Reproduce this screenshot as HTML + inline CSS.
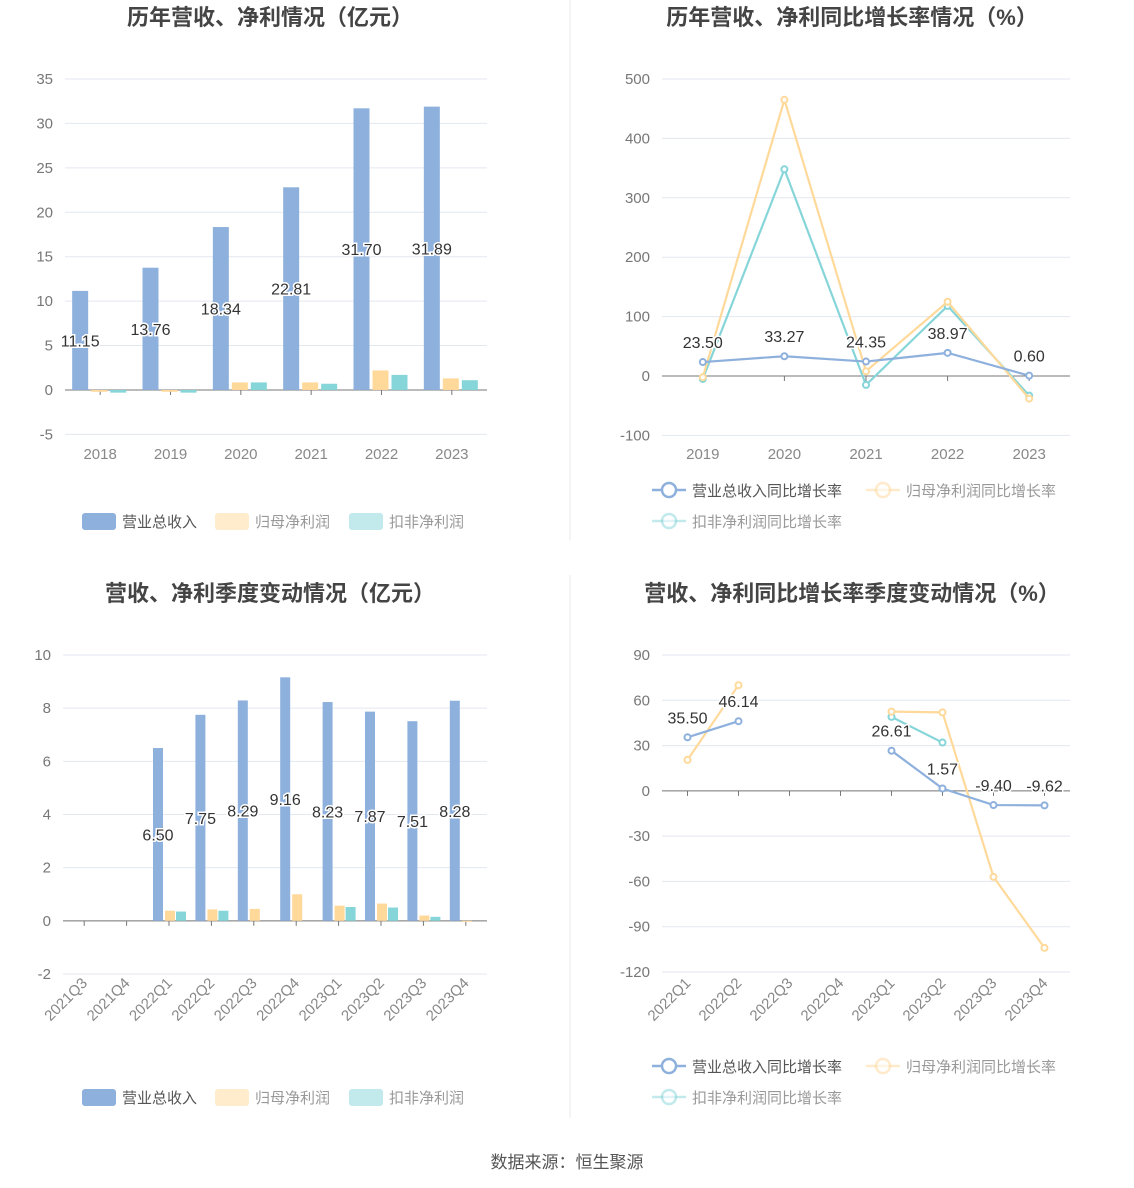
<!DOCTYPE html>
<html><head><meta charset="utf-8"><style>
body{margin:0;background:#fff;font-family:"Liberation Sans","Noto Sans CJK SC",sans-serif}
svg{display:block}
</style></head><body>
<svg id="s" width="1134" height="1188" xmlns="http://www.w3.org/2000/svg" font-family="Liberation Sans, Noto Sans CJK SC, sans-serif">
<line x1="570" y1="0" x2="570" y2="540" stroke="#e8e8e8"/>
<line x1="570" y1="575" x2="570" y2="1118" stroke="#e8e8e8"/>
<text x="270" y="25" text-anchor="middle" font-size="22" font-weight="bold" fill="#444">历年营收、净利情况（亿元）</text>
<text x="852" y="25" text-anchor="middle" font-size="22" font-weight="bold" fill="#444">历年营收、净利同比增长率情况（%）</text>
<text x="270" y="601" text-anchor="middle" font-size="22" font-weight="bold" fill="#444">营收、净利季度变动情况（亿元）</text>
<text x="852" y="601" text-anchor="middle" font-size="22" font-weight="bold" fill="#444">营收、净利同比增长率季度变动情况（%）</text>
<text x="567" y="1168" text-anchor="middle" font-size="17" fill="#555">数据来源：恒生聚源</text>
</svg>
<script>
const c1Cats=["2018","2019","2020","2021","2022","2023"];
const c1Rev=[11.15,13.76,18.34,22.81,31.70,31.89];
const c1Net=[-0.2,-0.2,0.85,0.85,2.2,1.3];
const c1Ded=[-0.3,-0.3,0.85,0.7,1.7,1.1];
const c1Ticks=[-5,0,5,10,15,20,25,30,35];

const c2Cats=["2019","2020","2021","2022","2023"];
const c2Rev=[23.50,33.27,24.35,38.97,0.60];
const c2Net=[-2,465,8,125,-38];
const c2Ded=[-5,348,-15,118,-33];
const c2Ticks=[-100,0,100,200,300,400,500];

const c3Cats=["2021Q3","2021Q4","2022Q1","2022Q2","2022Q3","2022Q4","2023Q1","2023Q2","2023Q3","2023Q4"];
const c3Rev=[null,null,6.50,7.75,8.29,9.16,8.23,7.87,7.51,8.28];
const c3Net=[null,null,0.38,0.43,0.45,1.0,0.57,0.65,0.2,-0.03];
const c3Ded=[null,null,0.35,0.38,null,null,0.52,0.5,0.15,null];
const c3Ticks=[-2,0,2,4,6,8,10];

const c4Cats=["2022Q1","2022Q2","2022Q3","2022Q4","2023Q1","2023Q2","2023Q3","2023Q4"];
const c4Rev=[35.50,46.14,null,null,26.61,1.57,-9.40,-9.62];
const c4Net=[20.5,70,null,null,52.5,52,-57,-104];
const c4Ded=[null,null,null,null,49,32,null,null];
const c4Ticks=[-120,-90,-60,-30,0,30,60,90];

const NS="http://www.w3.org/2000/svg";
const svg=document.getElementById("s");
function mk(tag,attrs,txt){const e=document.createElementNS(NS,tag);for(const k in attrs)e.setAttribute(k,attrs[k]);if(txt!=null)e.textContent=txt;svg.appendChild(e);return e;}
const BLUE="#8eb0dd",YEL="#ffd99a",TEAL="#86d5d9";

function axes(o,ticks,cats,rotate,pfx){
  const y=v=>o.y0-(v-o.vmin)/(o.vmax-o.vmin)*(o.y0-o.y1);
  for(const t of ticks){
    const g=mk("line",{x1:o.x0,x2:o.x1,y1:y(t),y2:y(t),stroke:"#e3e7f0"});
    
    
    const l=mk("text",{x:o.x0-12,y:y(t)+5,"text-anchor":"end","font-size":15,fill:"#777"},String(t));
    
    
  }
  const ax=mk("line",{x1:o.x0,x2:o.x1,y1:y(0),y2:y(0),stroke:"#777"});
  
  
  const w=(o.x1-o.x0)/cats.length;
  cats.forEach((c,i)=>{
    const cx=o.x0+w*(i+0.5);
    const tk=mk("line",{x1:cx,x2:cx,y1:y(0),y2:y(0)+5,stroke:"#777"});
    
    
    let l;
    if(rotate){l=mk("text",{x:cx+4,y:o.labY,"text-anchor":"end","font-size":15,fill:"#888",transform:`rotate(-45 ${cx+4} ${o.labY})`},c);}
    else l=mk("text",{x:cx,y:o.labY,"text-anchor":"middle","font-size":15,fill:"#888"},c);
    
    
  });
  return {y,w};
}
function barChart(o,cats,rev,net,ded,ticks,rot,pfx){
  const {y,w}=axes(o,ticks,cats,rot,pfx);
  const bw=o.bw;
  cats.forEach((c,i)=>{
    const cx=o.x0+w*(i+0.5);
    [[rev,BLUE,o.offs[0],'revenue'],[net,YEL,o.offs[1],'net-profit'],[ded,TEAL,o.offs[2],'deducted-profit']].forEach(([arr,col,off,nm])=>{
      const v=arr[i]; if(v==null)return;
      const r=mk("rect",{x:cx+off-bw/2,y:Math.min(y(v),y(0)),width:bw,height:Math.max(1,Math.abs(y(v)-y(0))),fill:col});
      
      
    });
    if(rev[i]!=null){
      const t=mk("text",{x:cx+o.offs[0],y:(y(rev[i])+y(0))/2+6,"text-anchor":"middle","font-size":16,fill:"#333",stroke:"#fff","stroke-width":3,"paint-order":"stroke"},rev[i].toFixed(2));
      
      
    }
  });
}
function lineChart(o,cats,rev,net,ded,ticks,rot,pfx){
  const {y,w}=axes(o,ticks,cats,rot,pfx);
  const X=i=>o.x0+w*(i+0.5);
  [[ded,TEAL,'deducted-growth'],[net,YEL,'net-growth'],[rev,BLUE,'revenue-growth']].forEach(([arr,col,nm])=>{
    let d="",pen=false;
    arr.forEach((v,i)=>{if(v==null){pen=false;return;}d+=(pen?"L":"M")+X(i)+" "+y(v)+" ";pen=true;});
    const p=mk("path",{d,fill:"none",stroke:col,"stroke-width":2.2});
    
    
    arr.forEach((v,i)=>{if(v==null)return;
      const cc=mk("circle",{cx:X(i),cy:y(v),r:3,fill:"#fff",stroke:col,"stroke-width":2});
      
      
    });
  });
  rev.forEach((v,i)=>{if(v==null)return;
    const t=mk("text",{x:X(i),y:y(v)-14,"text-anchor":"middle","font-size":16,fill:"#333",stroke:"#fff","stroke-width":3,"paint-order":"stroke"},v.toFixed(2));
    
    
  });
}
function legendBars(y0,pfx){
  [[82,BLUE,"营业总收入"],[215,YEL,"归母净利润"],[349,TEAL,"扣非净利润"]].forEach(([x,col,t],k)=>{
    const r=mk("rect",{x,y:y0-8,width:34,height:17,rx:3,fill:col,opacity:k?0.5:1});
    
    
    const l=mk("text",{x:x+40,y:y0+6,"font-size":15,fill:k?"#999":"#555"},t);
    
    
  });
}
function legendLines(y0,pfx){
  [[652,y0,BLUE,"营业总收入同比增长率",1],[866,y0,YEL,"归母净利润同比增长率",0],[652,y0+31,TEAL,"扣非净利润同比增长率",0]].forEach(([x,yy,col,t,a])=>{
    const ln=mk("line",{x1:x,x2:x+34,y1:yy,y2:yy,stroke:col,"stroke-width":2.5,opacity:a?1:0.5});
    
    
    const c=mk("circle",{cx:x+17,cy:yy,r:7,fill:"#fff",stroke:col,"stroke-width":2.5,opacity:a?1:0.5});
    
    
    const l=mk("text",{x:x+40,y:yy+6,"font-size":15,fill:a?"#555":"#999"},t);
    
    
  });
}
barChart({x0:65,x1:487,y0:434.4,y1:79,vmin:-5,vmax:35,labY:459,bw:16,offs:[-20,-1,18]},c1Cats,c1Rev,c1Net,c1Ded,c1Ticks,false,"annual-amount");
legendBars(521,"annual-amount");
lineChart({x0:662,x1:1070,y0:435.4,y1:79,vmin:-100,vmax:500,labY:459},c2Cats,c2Rev,c2Net,c2Ded,c2Ticks,false,"annual-growth");
legendLines(490,"annual-growth");
barChart({x0:63,x1:487,y0:974,y1:655,vmin:-2,vmax:10,labY:984,bw:10,offs:[-11,1,12]},c3Cats,c3Rev,c3Net,c3Ded,c3Ticks,true,"quarter-amount");
legendBars(1097,"quarter-amount");
lineChart({x0:662,x1:1070,y0:972,y1:655,vmin:-120,vmax:90,labY:984},c4Cats,c4Rev,c4Net,c4Ded,c4Ticks,true,"quarter-growth");
legendLines(1066,"quarter-growth");
</script>
</body></html>
